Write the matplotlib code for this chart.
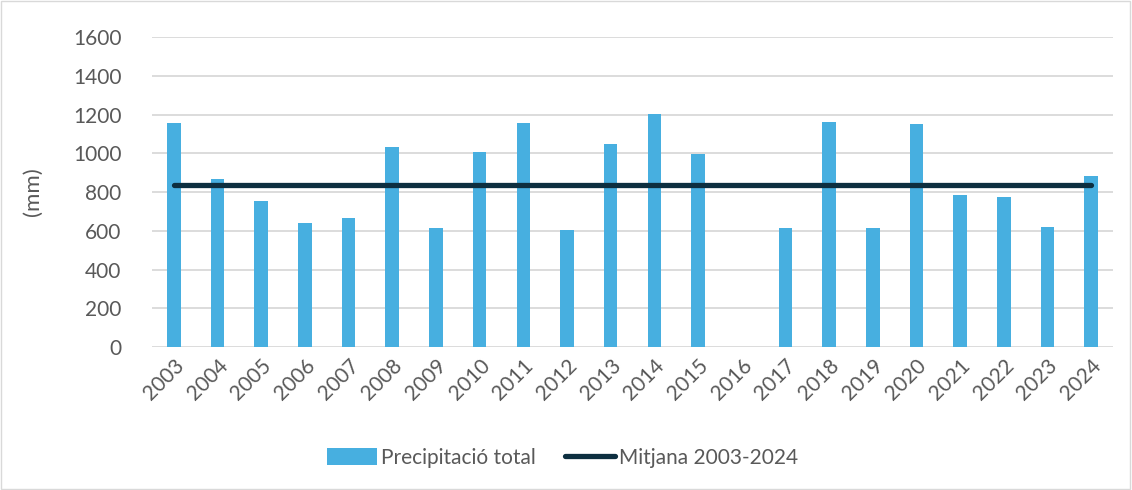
import matplotlib
matplotlib.use('Agg')
import matplotlib.pyplot as plt
from matplotlib.patches import Rectangle

plt.rcParams['font.family'] = ['Lato', 'DejaVu Sans']

# dades
anys = ['2003', '2004', '2005', '2006', '2007', '2008', '2009', '2010', '2011', '2012', '2013',
        '2014', '2015', '2016', '2017', '2018', '2019', '2020', '2021', '2022', '2023', '2024']
precipitacio = [1155, 869, 755, 642, 668, 1034, 616, 1005, 1156, 602, 1048,
                1205, 998, 0, 613, 1160, 613, 1149, 786, 776, 621, 881]
mitjana = 836

text_color = '#595959'
bar_color = '#47afe0'
line_color = '#0d2f40'

fig = plt.figure(figsize=(11.32, 4.9), dpi=100)
ax = fig.add_axes([0.1343, 0.2918, 0.8489, 0.6327])

x = list(range(len(anys)))
barres = ax.bar(x, precipitacio, width=0.31, color=bar_color, label='Precipitació total', zorder=2)
linia, = ax.plot(x, [mitjana] * len(anys), color=line_color, lw=3.8, solid_capstyle='round',
                 label='Mitjana 2003-2024', zorder=3)

ax.set_xlim(-0.5, len(anys) - 0.5)
ax.set_ylim(0, 1600)
ax.set_yticks(range(0, 1601, 200))
ax.set_xticks(x)
ax.set_xticklabels(anys, rotation=45, ha='right', rotation_mode='anchor')
ax.tick_params(axis='both', length=0, colors=text_color, labelsize=15)
ax.tick_params(axis='y', pad=22)
ax.tick_params(axis='x', pad=6)
ax.grid(axis='y', color='#d9d9d9', lw=1.3, zorder=0)
for s in ax.spines.values():
    s.set_visible(False)
ax.set_ylabel('(mm)', color=text_color, fontsize=16, labelpad=22)

ax.legend([barres, linia], ['Precipitació total', 'Mitjana 2003-2024'],
          loc='center', bbox_to_anchor=(0.497, 1 - 458 / 490), bbox_transform=fig.transFigure,
          ncol=2, frameon=False, fontsize=15, labelcolor=text_color,
          handlelength=2.4, handleheight=0.9, columnspacing=1.4, handletextpad=0.2)

fig.patches.append(Rectangle((0.001, 0.002), 0.997, 0.996, transform=fig.transFigure,
                             fill=False, edgecolor='#d9d9d9', lw=1))

plt.savefig('out.png', dpi=100)
